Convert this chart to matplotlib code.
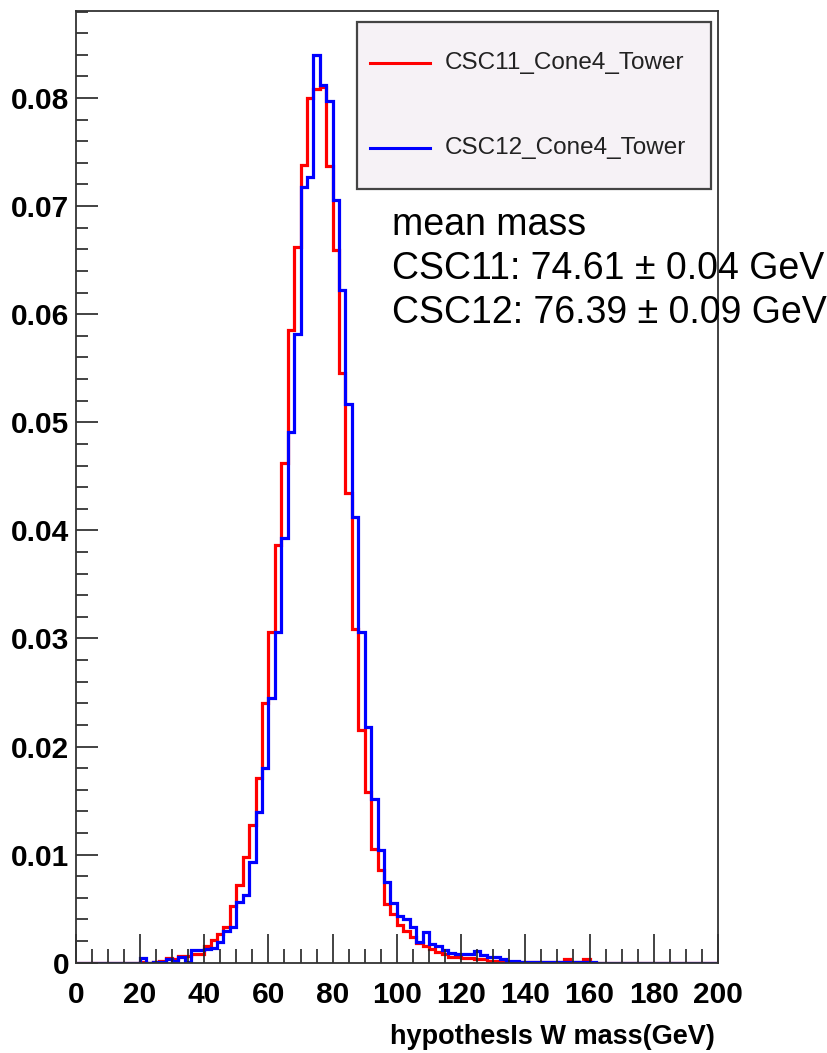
import numpy as np
import matplotlib
matplotlib.use("Agg")
import matplotlib.pyplot as plt
from matplotlib.patches import Rectangle
from matplotlib.lines import Line2D
from matplotlib.ticker import MultipleLocator, FuncFormatter

# Normalised W-mass histograms, 2 GeV bins from 0 to 200 GeV
bin_edges = np.arange(0, 202, 2)

csc11_frac = [
    0, 0, 0, 0, 0, 0, 0, 0, 0, 0,
    0.0001, 0, 0.0001, 0.0002, 0.0004, 0.0003, 0.0006, 0.0006, 0.0008, 0.0008,
    0.0015, 0.0021, 0.0027, 0.0033, 0.0052, 0.0072, 0.0098, 0.0127, 0.0171, 0.0240,
    0.0306, 0.0386, 0.0462, 0.0585, 0.0662, 0.0738, 0.0800, 0.0808, 0.0810, 0.0737,
    0.0659, 0.0546, 0.0435, 0.0309, 0.0215, 0.0158, 0.0105, 0.0086, 0.0054, 0.0045,
    0.0035, 0.0029, 0.0024, 0.0018, 0.0015, 0.0013, 0.0010, 0.0008, 0.0005, 0.0005,
    0.0004, 0.0004, 0.0003, 0.0003, 0.0002, 0.0002, 0.0001, 0.0001, 0.0001, 0.0001,
    0.0001, 0.0001, 0.0001, 0.0001, 0.0001, 0.0001, 0.0003, 0.0001, 0.0001, 0.0003,
    0, 0, 0, 0, 0, 0, 0, 0, 0, 0,
    0, 0, 0, 0, 0, 0, 0, 0, 0, 0,
]

csc12_frac = [
    0, 0, 0, 0, 0, 0, 0, 0, 0, 0,
    0.0004, 0, 0.0001, 0.0001, 0.0003, 0.0002, 0.0005, 0.0001, 0.0012, 0.0012,
    0.0013, 0.0014, 0.0019, 0.0029, 0.0033, 0.0056, 0.0063, 0.0093, 0.0139, 0.0180,
    0.0245, 0.0306, 0.0393, 0.0491, 0.0582, 0.0718, 0.0727, 0.0840, 0.0812, 0.0797,
    0.0706, 0.0622, 0.0517, 0.0412, 0.0306, 0.0218, 0.0151, 0.0104, 0.0075, 0.0055,
    0.0043, 0.0040, 0.0033, 0.0019, 0.0028, 0.0017, 0.0015, 0.0012, 0.0009, 0.0008,
    0.0008, 0.0008, 0.0011, 0.0007, 0.0005, 0.0005, 0.0003, 0.0002, 0.0002, 0.0001,
    0.0001, 0.0001, 0.0001, 0.0001, 0.0001, 0.0001, 0.0001, 0.0001, 0.0001, 0.0001,
    0.0001, 0, 0, 0, 0, 0, 0, 0, 0, 0,
    0, 0, 0, 0, 0, 0, 0, 0, 0, 0,
]

series_labels = ["CSC11_Cone4_Tower", "CSC12_Cone4_Tower"]
series_colors = ["#ff0000", "#0000ff"]
stats_lines = ["mean mass",
               "CSC11: 74.61 \u00b1 0.04 GeV",
               "CSC12: 76.39 \u00b1 0.09 GeV"]
x_title = "hypothesIs W mass(GeV)"

plt.rcParams["font.family"] = ["Liberation Sans", "DejaVu Sans"]

W, H = 827, 1053
fig = plt.figure(figsize=(W / 100, H / 100), dpi=100)
ax = fig.add_axes([75.7 / W, 1 - 962.7 / H, (718 - 75.7) / W, (962.7 - 10.7) / H])

for vals, col in zip([csc11_frac, csc12_frac], series_colors):
    ax.stairs(vals, bin_edges, color=col, linewidth=2.3, baseline=None)

ax.set_xlim(0, 200)
ax.set_ylim(0, 0.08808)

ax.xaxis.set_major_locator(MultipleLocator(20))
ax.xaxis.set_minor_locator(MultipleLocator(5))
ax.yaxis.set_major_locator(MultipleLocator(0.01))
ax.yaxis.set_minor_locator(MultipleLocator(0.002))
ax.yaxis.set_major_formatter(FuncFormatter(lambda v, p: "0" if abs(v) < 1e-9 else f"{v:.2f}"))

ax.tick_params(axis="x", which="major", direction="in", length=21, width=1.2,
               color="#222222", pad=13, labelsize=21.5)
ax.tick_params(axis="x", which="minor", direction="in", length=10, width=1.2, color="#222222")
ax.tick_params(axis="y", which="major", direction="in", length=16, width=1.2,
               color="#222222", pad=4.5, labelsize=21.5)
ax.tick_params(axis="y", which="minor", direction="in", length=8.5, width=1.2, color="#222222")
ax.tick_params(top=False, right=False, which="both")
for lab in ax.get_xticklabels() + ax.get_yticklabels():
    lab.set_fontweight("bold")

for sp in ax.spines.values():
    sp.set_linewidth(1.3)
    sp.set_color("#333333")

# Legend panel
lx0, lx1, ly0, ly1 = 356.7, 711, 22.3, 189
fig.patches.append(Rectangle((lx0 / W, 1 - ly1 / H), (lx1 - lx0) / W, (ly1 - ly0) / H,
                             transform=fig.transFigure, facecolor="#f6f2f6",
                             edgecolor="#444444", linewidth=1.6, zorder=5))
for lab, col, yy in zip(series_labels, series_colors, [63, 147.7]):
    fig.lines.append(Line2D([370 / W, 430 / W], [1 - yy / H, 1 - yy / H],
                            transform=fig.transFigure, color=col, linewidth=2.2, zorder=6))
    fig.text(445 / W, 1 - yy / H, lab, fontsize=17.5, color="#222222",
             va="center", ha="left", zorder=7)

# Mean mass annotation
for txt, base in zip(stats_lines, [235, 279, 323]):
    fig.text(392 / W, 1 - base / H, txt, fontsize=27, color="black",
             va="baseline", ha="left")

fig.text(715 / W, 1 - 1044 / H, x_title, fontsize=19.5, fontweight="bold",
         ha="right", va="baseline")

fig.savefig("out.png", dpi=100)
